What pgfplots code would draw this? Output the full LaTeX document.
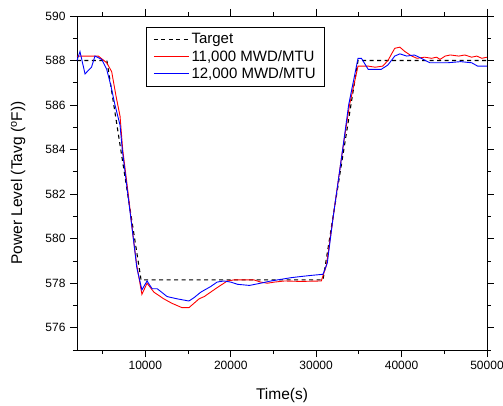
\documentclass[border=0pt]{standalone}
\usepackage{fontspec}
\setmainfont{Liberation Sans}
\usepackage{pgfplots}
\pgfplotsset{compat=1.18}

\begin{document}
\begin{tikzpicture}
\begin{axis}[
  name=main,
  scale only axis,width=410pt,height=334pt,
  xmin=2000,xmax=50000,ymin=575,ymax=590,
  xtick={10000,20000,30000,40000,50000},
  minor xtick={5000,15000,25000,35000,45000},
  ytick={576,578,...,590},
  minor ytick={575,577,...,589},
  scaled x ticks=false,
  tick align=outside,
  major tick length=7pt,minor tick length=4pt,
  tick style={black,line width=0.8pt},
  axis line style={line width=0.9pt},
  /pgf/number format/assume math mode=true,
  /pgf/number format/set thousands separator={},
  tick label style={font=\fontsize{12}{14}\selectfont},
  yticklabel style={xshift=-1pt},
  xticklabel style={yshift=-1pt},
  label style={font=\fontsize{15.5}{18}\selectfont},
  xlabel={Time(s)},
  ylabel={Power Level (Tavg (\textsuperscript{o}F))},
  xlabel style={at={(axis description cs:0.5,0)},anchor=center,yshift=-45pt},
  ylabel style={at={(axis description cs:0,0.5)},anchor=center,yshift=59pt},
  legend style={draw=black,line width=0.8pt,fill=white,
    font=\fontsize{15}{18}\selectfont,
    at={(69pt,323pt)},anchor=north west,
    inner xsep=7pt,inner ysep=4pt,row sep=1pt,
    /tikz/every even column/.append style={column sep=0pt}},
  legend cell align=left,
  legend image code/.code={\draw[#1] (0pt,0pt) -- (35pt,0pt);},
]
\addplot[black,line width=1.1pt,dash pattern=on 4pt off 3.5pt] coordinates {
  (2000,588) (5500,588) (9500,578.15) (30800,578.15) (34900,588) (50000,588)};
\addlegendentry{Target}
\addplot[red,line width=0.9pt] coordinates {
  (2000,588.2) (3000,588.2) (4500,588.2) (5480,587.9) (6060,587.5) (6570,586.4)
  (7040,585.5) (7350,584) (8000,582) (8600,580) (9000,578.8) (9600,577.5)
  (10200,578.0) (11000,577.6) (12150,577.3) (13100,577.1) (14300,576.9)
  (15100,576.9) (16300,577.3) (16900,577.4) (18400,577.8) (19600,578.1)
  (20400,578.15) (22700,578.15) (23500,578.05) (24300,578.0) (25100,578.05)
  (26300,578.1) (28200,578.08) (30600,578.1) (31200,578.8) (32000,581)
  (33100,584) (33900,586) (34900,587.75) (36100,587.75) (36900,587.7)
  (37800,587.75) (38400,588.0) (39200,588.55) (39800,588.6) (40400,588.4)
  (41200,588.2) (41800,588.1) (42700,588.15) (43500,588.1) (44100,588.15)
  (44500,588.05) (45100,588.2) (45700,588.25) (46700,588.2) (47400,588.25)
  (48200,588.15) (48800,588.2) (49400,588.1) (50000,588.15)};
\addlegendentry{11,000 MWD/MTU}
\addplot[blue,line width=0.9pt] coordinates {
  (2000,588.0) (2350,588.4) (2940,587.4) (3700,587.7) (4100,588.2) (4900,588.05)
  (5480,587.6) (5950,586.9) (6450,586.0) (7040,585.1) (7300,584) (7950,582)
  (8600,580) (9000,578.7) (9600,577.7) (10200,578.1) (10800,577.75)
  (11400,577.75) (12550,577.4) (13700,577.3) (15100,577.2) (15700,577.35)
  (16500,577.6) (17650,577.85) (18400,578.05) (19200,578.1) (20000,578.05)
  (20800,577.95) (22200,577.9) (23500,578.0) (24700,578.1) (25500,578.15)
  (26300,578.2) (27100,578.25) (28200,578.3) (29400,578.35) (30800,578.4)
  (31300,578.9) (32000,581) (33100,584) (33800,586) (34900,588.1)
  (35300,588.1) (36100,587.6) (37600,587.6) (38400,587.8) (39200,588.2)
  (39800,588.3) (40600,588.2) (41500,588.25) (42300,588.1) (43300,587.9)
  (45400,587.9) (46900,587.95) (48200,587.9) (48900,587.75) (50000,587.75)};
\addlegendentry{12,000 MWD/MTU}
\end{axis}
\pgfresetboundingbox
\path[use as bounding box] ([shift={(-77pt,-55pt)}]main.south west)
  rectangle ([shift={(16pt,16pt)}]main.north east);
\end{tikzpicture}
\end{document}
